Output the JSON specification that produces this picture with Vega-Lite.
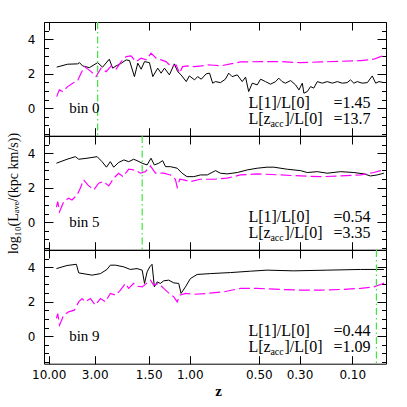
{
"$schema": "https://vega.github.io/schema/vega-lite/v6.json",
"autosize": {"type": "none"},
"padding": {"left": 44, "top": 22, "right": 363, "bottom": 385},
"background": "white",
"config": {"view": {"stroke": "black", "strokeWidth": 1}, "axis": {"domain": false, "grid": false, "tickColor": "black", "tickWidth": 1, "labelColor": "black", "titleColor": "black"}},
"datasets": {
"bin0": [{"t":0.79,"v":2.38},{"t":1.21,"v":2.55},{"t":1.60,"v":2.57},{"t":1.67,"v":2.64},{"t":1.79,"v":2.45},{"t":2.05,"v":2.35},{"t":2.37,"v":2.64},{"t":2.56,"v":2.38},{"t":2.82,"v":2.84},{"t":2.95,"v":2.32},{"t":3.08,"v":2.45},{"t":3.28,"v":2.6},{"t":3.47,"v":2.8},{"t":3.60,"v":2.76},{"t":3.79,"v":1.83},{"t":3.92,"v":2.61},{"t":4.05,"v":2.26},{"t":4.18,"v":2.7},{"t":4.37,"v":2.64},{"t":4.50,"v":1.83},{"t":4.69,"v":2.32},{"t":4.82,"v":2.03},{"t":4.95,"v":2.32},{"t":5.14,"v":1.93},{"t":5.33,"v":2.57},{"t":5.46,"v":2.12},{"t":5.59,"v":1.93},{"t":5.79,"v":1.54},{"t":5.91,"v":1.87},{"t":6.11,"v":1.64},{"t":6.23,"v":1.83},{"t":6.37,"v":1.68},{"t":6.56,"v":1.99},{"t":6.69,"v":2.03},{"t":6.81,"v":1.45},{"t":6.92,"v":1.54},{"t":7.11,"v":1.48},{"t":7.30,"v":1.68},{"t":7.43,"v":2.03},{"t":7.56,"v":1.83},{"t":7.76,"v":1.93},{"t":7.95,"v":1.54},{"t":8.08,"v":1.8},{"t":8.20,"v":0.96},{"t":8.34,"v":1.45},{"t":8.53,"v":1.35},{"t":8.66,"v":1.68},{"t":8.85,"v":1.54},{"t":9.04,"v":1.39},{"t":9.24,"v":1.54},{"t":9.36,"v":1.74},{"t":9.49,"v":1.54},{"t":9.62,"v":1.45},{"t":9.82,"v":1.6},{"t":10.01,"v":1.35},{"t":10.14,"v":1.06},{"t":10.27,"v":1.45},{"t":10.33,"v":0.87},{"t":10.46,"v":0.96},{"t":10.59,"v":1.25},{"t":10.71,"v":1.16},{"t":10.85,"v":1.54},{"t":11.04,"v":1.45},{"t":11.23,"v":1.54},{"t":11.43,"v":1.45},{"t":11.62,"v":1.54},{"t":11.81,"v":1.45},{"t":12.00,"v":1.48},{"t":12.13,"v":1.64},{"t":12.26,"v":1.45},{"t":12.39,"v":1.54},{"t":12.58,"v":1.45},{"t":12.78,"v":1.48},{"t":12.97,"v":1.87},{"t":13.10,"v":1.45},{"t":13.23,"v":1.54},{"t":13.42,"v":1.48}],
"ref0": [{"t":0.79,"v":0.67},{"t":0.89,"v":1.06},{"t":1.02,"v":0.96},{"t":1.21,"v":1.25},{"t":1.41,"v":1.45},{"t":1.60,"v":1.6},{"t":1.73,"v":2.03},{"t":1.86,"v":2.41},{"t":2.12,"v":2.12},{"t":2.31,"v":1.83},{"t":2.50,"v":2.32},{"t":2.70,"v":2.12},{"t":2.89,"v":2.45},{"t":3.08,"v":2.26},{"t":3.28,"v":2.7},{"t":3.47,"v":2.99},{"t":3.66,"v":3.03},{"t":3.85,"v":2.7},{"t":4.05,"v":2.9},{"t":4.24,"v":2.8},{"t":4.43,"v":3.19},{"t":4.63,"v":2.9},{"t":4.82,"v":2.8},{"t":5.01,"v":2.7},{"t":5.21,"v":2.41},{"t":5.40,"v":2.51},{"t":5.53,"v":2.03},{"t":5.65,"v":2.41},{"t":5.85,"v":2.45},{"t":6.11,"v":2.41},{"t":6.37,"v":2.45},{"t":6.62,"v":2.51},{"t":6.88,"v":2.49},{"t":7.11,"v":2.45},{"t":7.50,"v":2.57},{"t":7.88,"v":2.68},{"t":8.66,"v":2.7},{"t":9.43,"v":2.7},{"t":10.20,"v":2.64},{"t":10.97,"v":2.68},{"t":11.75,"v":2.72},{"t":12.52,"v":2.76},{"t":13.03,"v":2.84},{"t":13.29,"v":2.99},{"t":13.48,"v":3.09}],
"bin5": [{"t":0.78,"v":3.42},{"t":1.19,"v":3.65},{"t":1.51,"v":3.8},{"t":1.64,"v":3.65},{"t":1.96,"v":3.71},{"t":2.35,"v":3.8},{"t":2.54,"v":3.51},{"t":2.71,"v":3.19},{"t":2.86,"v":3.51},{"t":2.99,"v":3.19},{"t":3.18,"v":3.46},{"t":3.38,"v":3.61},{"t":3.57,"v":3.51},{"t":3.76,"v":3.65},{"t":3.89,"v":3.57},{"t":4.09,"v":3.42},{"t":4.28,"v":3.32},{"t":4.43,"v":3.71},{"t":4.56,"v":3.32},{"t":4.73,"v":3.42},{"t":4.88,"v":3.57},{"t":4.99,"v":3.22},{"t":5.18,"v":3.22},{"t":5.44,"v":3.13},{"t":5.63,"v":2.84},{"t":5.82,"v":2.64},{"t":6.08,"v":2.64},{"t":6.34,"v":2.74},{"t":6.60,"v":2.74},{"t":6.92,"v":2.99},{"t":7.11,"v":2.84},{"t":7.37,"v":2.8},{"t":7.76,"v":2.88},{"t":8.14,"v":3.03},{"t":8.53,"v":3.13},{"t":8.91,"v":3.19},{"t":9.17,"v":3.19},{"t":9.69,"v":3.07},{"t":10.20,"v":2.99},{"t":10.46,"v":2.88},{"t":10.85,"v":2.93},{"t":11.23,"v":2.84},{"t":11.75,"v":2.93},{"t":12.26,"v":2.88},{"t":12.65,"v":2.8},{"t":12.90,"v":2.68},{"t":13.16,"v":2.74},{"t":13.42,"v":2.84}],
"ref5": [{"t":0.78,"v":0.87},{"t":0.83,"v":1.19},{"t":0.90,"v":0.61},{"t":1.06,"v":1.19},{"t":1.25,"v":1.39},{"t":1.38,"v":1.29},{"t":1.58,"v":1.58},{"t":1.70,"v":1.97},{"t":1.83,"v":2.45},{"t":1.99,"v":2.16},{"t":2.22,"v":1.87},{"t":2.41,"v":2.26},{"t":2.60,"v":2.35},{"t":2.80,"v":2.1},{"t":2.99,"v":2.55},{"t":3.18,"v":2.84},{"t":3.35,"v":2.64},{"t":3.57,"v":3.07},{"t":3.76,"v":3.03},{"t":3.83,"v":3.03},{"t":4.02,"v":2.84},{"t":4.21,"v":2.93},{"t":4.41,"v":3.26},{"t":4.60,"v":2.84},{"t":4.92,"v":2.84},{"t":5.18,"v":2.74},{"t":5.37,"v":2.49},{"t":5.44,"v":2.03},{"t":5.54,"v":2.49},{"t":5.69,"v":2.45},{"t":5.95,"v":2.35},{"t":6.34,"v":2.49},{"t":6.85,"v":2.49},{"t":7.37,"v":2.55},{"t":7.88,"v":2.74},{"t":8.53,"v":2.8},{"t":9.43,"v":2.74},{"t":10.20,"v":2.68},{"t":10.97,"v":2.64},{"t":11.75,"v":2.68},{"t":12.52,"v":2.74},{"t":13.03,"v":2.88},{"t":13.29,"v":2.99},{"t":13.42,"v":3.07}],
"bin9": [{"t":0.78,"v":3.92},{"t":1.19,"v":4.1},{"t":1.55,"v":4.17},{"t":1.64,"v":3.67},{"t":2.16,"v":3.54},{"t":2.48,"v":3.63},{"t":2.73,"v":3.87},{"t":2.86,"v":4.12},{"t":3.06,"v":4.12},{"t":3.38,"v":4.02},{"t":3.63,"v":3.87},{"t":3.89,"v":3.92},{"t":4.09,"v":3.83},{"t":4.18,"v":3.06},{"t":4.28,"v":3.73},{"t":4.38,"v":4.02},{"t":4.47,"v":4.17},{"t":4.56,"v":2.86},{"t":4.67,"v":3.15},{"t":4.79,"v":3.06},{"t":4.92,"v":3.21},{"t":5.11,"v":3.25},{"t":5.31,"v":3.09},{"t":5.50,"v":3.06},{"t":5.59,"v":2.48},{"t":5.76,"v":2.86},{"t":5.95,"v":3.34},{"t":6.21,"v":3.58},{"t":6.72,"v":3.63},{"t":7.50,"v":3.69},{"t":8.27,"v":3.77},{"t":8.91,"v":3.83},{"t":9.94,"v":3.79},{"t":11.23,"v":3.83},{"t":12.52,"v":3.87},{"t":13.42,"v":3.87}],
"ref9": [{"t":0.78,"v":1.03},{"t":0.83,"v":1.31},{"t":0.90,"v":0.64},{"t":1.06,"v":1.22},{"t":1.25,"v":1.41},{"t":1.47,"v":1.51},{"t":1.64,"v":1.99},{"t":1.77,"v":2.18},{"t":1.90,"v":1.99},{"t":2.09,"v":2.18},{"t":2.28,"v":1.8},{"t":2.48,"v":2.18},{"t":2.67,"v":1.99},{"t":2.86,"v":2.48},{"t":3.06,"v":2.38},{"t":3.25,"v":2.67},{"t":3.44,"v":3.06},{"t":3.57,"v":2.77},{"t":3.76,"v":3.06},{"t":3.89,"v":2.9},{"t":4.09,"v":2.86},{"t":4.28,"v":3.09},{"t":4.41,"v":3.25},{"t":4.53,"v":2.96},{"t":4.73,"v":3.06},{"t":4.92,"v":2.77},{"t":5.11,"v":2.51},{"t":5.31,"v":2.28},{"t":5.44,"v":1.99},{"t":5.54,"v":2.38},{"t":5.76,"v":2.48},{"t":6.08,"v":2.43},{"t":6.60,"v":2.48},{"t":7.24,"v":2.57},{"t":7.88,"v":2.77},{"t":8.53,"v":2.77},{"t":9.43,"v":2.71},{"t":10.20,"v":2.67},{"t":10.97,"v":2.67},{"t":11.75,"v":2.71},{"t":12.52,"v":2.77},{"t":13.03,"v":2.86},{"t":13.29,"v":3.0},{"t":13.45,"v":3.09}],
"annot": [{"panel":0,"bin":"bin  0","r1":"=1.45","r2":"=13.7","zacc":2.37},{"panel":1,"bin":"bin  5","r1":"=0.54","r2":"=3.35","zacc":4.09},{"panel":2,"bin":"bin  9","r1":"=0.44","r2":"=1.09","zacc":13.13}]
},
"spacing": 0,
"bounds": "flush",
"vconcat": [
{
"width": 342, "height": 113.7,
"resolve": {"axis": {"x": "independent", "y": "independent"}},
"layer": [
{"data": {"name": "bin0"}, "mark": {"type": "line", "color": "black", "strokeWidth": 1, "clip": true},
 "encoding": {
  "x": {"field": "t", "type": "quantitative", "scale": {"domain": [0.3, 13.5], "nice": false, "zero": false}, "axis": {"orient": "bottom", "values": [0.48, 2.256, 4.341, 5.925, 8.59, 10.162, 12.198], "labels": false, "tickSize": -8, "title": null}},
  "y": {"field": "v", "type": "quantitative", "scale": {"domain": [-1.6, 5], "nice": false, "zero": false}, "axis": {"orient": "left", "values": [-1.5,-1,-0.5,0,0.5,1,1.5,2,2.5,3,3.5,4,4.5,5], "tickSize": {"condition": {"test": "datum.value % 2 === 0", "value": -9}, "value": -4.5}, "labelExpr": "datum.value === 4 ? '4' : datum.value === 2 ? '2' : datum.value === 0 ? '0' : ''", "labelOverlap": false, "labelFont": "DejaVu Sans", "labelFontSize": 12, "labelPadding": 18, "title": null}}
 }},
{"data": {"name": "ref0"}, "mark": {"type": "line", "color": "#ff00ff", "strokeWidth": 1.2, "strokeDash": [11, 4], "clip": true},
 "encoding": {
  "x": {"field": "t", "type": "quantitative", "scale": {"domain": [0.3, 13.5], "nice": false, "zero": false}, "axis": {"orient": "top", "values": [0.48, 2.256, 4.341, 5.925, 8.59, 10.162, 12.198], "labels": false, "tickSize": -8, "title": null}},
  "y": {"field": "v", "type": "quantitative", "scale": {"domain": [-1.6, 5], "nice": false, "zero": false}, "axis": {"orient": "right", "values": [-1.5,-1,-0.5,0,0.5,1,1.5,2,2.5,3,3.5,4,4.5,5], "tickSize": {"condition": {"test": "datum.value % 2 === 0", "value": -9}, "value": -4.5}, "labels": false, "title": null}}
 }},
{"data": {"name": "annot"}, "transform": [{"filter": "datum.panel === 0"}], "mark": {"type": "rule", "color": "#3ee83e", "strokeWidth": 1.2, "strokeDash": [7, 3, 1.5, 3]},
 "encoding": {"x": {"field": "zacc", "type": "quantitative", "scale": {"domain": [0.3, 13.5], "nice": false, "zero": false}, "axis": null}}},
{"data": {"name": "annot"}, "transform": [{"filter": "datum.panel === 0"}], "mark": {"type": "text", "align": "left", "baseline": "middle", "font": "Liberation Serif", "fontSize": 15, "color": "black"},
 "encoding": {"x": {"datum": 1.27, "type": "quantitative", "axis": null}, "y": {"datum": 0, "type": "quantitative", "axis": null}, "text": {"field": "bin"}}},
{"data": {"name": "annot"}, "transform": [{"filter": "datum.panel === 0"}], "mark": {"type": "text", "align": "left", "baseline": "middle", "font": "Liberation Serif", "fontSize": 16, "color": "black", "text": "L[1]/L[0]"},
 "encoding": {"x": {"datum": 8.19, "type": "quantitative", "axis": null}, "y": {"datum": 0.28, "type": "quantitative", "axis": null}}},
{"data": {"name": "annot"}, "transform": [{"filter": "datum.panel === 0"}], "mark": {"type": "text", "align": "left", "baseline": "middle", "font": "Liberation Serif", "fontSize": 16, "color": "black"},
 "encoding": {"x": {"datum": 11.475, "type": "quantitative", "axis": null}, "y": {"datum": 0.28, "type": "quantitative", "axis": null}, "text": {"field": "r1"}}},
{"data": {"name": "annot"}, "transform": [{"filter": "datum.panel === 0"}], "mark": {"type": "text", "align": "left", "baseline": "middle", "font": "Liberation Serif", "fontSize": 16, "color": "black", "text": "L[z"},
 "encoding": {"x": {"datum": 8.19, "type": "quantitative", "axis": null}, "y": {"datum": -0.62, "type": "quantitative", "axis": null}}},
{"data": {"name": "annot"}, "transform": [{"filter": "datum.panel === 0"}], "mark": {"type": "text", "align": "left", "baseline": "middle", "font": "Liberation Serif", "fontSize": 10, "color": "black", "text": "acc", "dx": 22, "dy": 5},
 "encoding": {"x": {"datum": 8.19, "type": "quantitative", "axis": null}, "y": {"datum": -0.62, "type": "quantitative", "axis": null}}},
{"data": {"name": "annot"}, "transform": [{"filter": "datum.panel === 0"}], "mark": {"type": "text", "align": "left", "baseline": "middle", "font": "Liberation Serif", "fontSize": 16, "color": "black", "text": "]/L[0]", "dx": 36},
 "encoding": {"x": {"datum": 8.19, "type": "quantitative", "axis": null}, "y": {"datum": -0.62, "type": "quantitative", "axis": null}}},
{"data": {"name": "annot"}, "transform": [{"filter": "datum.panel === 0"}], "mark": {"type": "text", "align": "left", "baseline": "middle", "font": "Liberation Serif", "fontSize": 16, "color": "black"},
 "encoding": {"x": {"datum": 11.475, "type": "quantitative", "axis": null}, "y": {"datum": -0.62, "type": "quantitative", "axis": null}, "text": {"field": "r2"}}}
]
},
{
"width": 342, "height": 113.7,
"resolve": {"axis": {"x": "independent", "y": "independent"}},
"layer": [
{"data": {"name": "bin5"}, "mark": {"type": "line", "color": "black", "strokeWidth": 1, "clip": true},
 "encoding": {
  "x": {"field": "t", "type": "quantitative", "scale": {"domain": [0.3, 13.5], "nice": false, "zero": false}, "axis": {"orient": "bottom", "values": [0.48, 2.256, 4.341, 5.925, 8.59, 10.162, 12.198], "labels": false, "tickSize": -8, "title": null}},
  "y": {"field": "v", "type": "quantitative", "scale": {"domain": [-1.6, 5], "nice": false, "zero": false}, "axis": {"orient": "left", "values": [-1.5,-1,-0.5,0,0.5,1,1.5,2,2.5,3,3.5,4,4.5,5], "tickSize": {"condition": {"test": "datum.value % 2 === 0", "value": -9}, "value": -4.5}, "labelExpr": "datum.value === 4 ? '4' : datum.value === 2 ? '2' : datum.value === 0 ? '0' : ''", "labelOverlap": false, "labelFont": "DejaVu Sans", "labelFontSize": 12, "labelPadding": 18, "title": "log₁₀(Lₐᵥₑ/(kpc km/s))", "titleFont": "Liberation Serif", "titleFontSize": 14, "titleFontWeight": "normal", "titleX": -31, "titleY": 57, "titleAlign": "center", "titleBaseline": "middle", "titleAngle": -90}}
 }},
{"data": {"name": "ref5"}, "mark": {"type": "line", "color": "#ff00ff", "strokeWidth": 1.2, "strokeDash": [11, 4], "clip": true},
 "encoding": {
  "x": {"field": "t", "type": "quantitative", "scale": {"domain": [0.3, 13.5], "nice": false, "zero": false}, "axis": {"orient": "top", "values": [0.48, 2.256, 4.341, 5.925, 8.59, 10.162, 12.198], "labels": false, "tickSize": -8, "title": null}},
  "y": {"field": "v", "type": "quantitative", "scale": {"domain": [-1.6, 5], "nice": false, "zero": false}, "axis": {"orient": "right", "values": [-1.5,-1,-0.5,0,0.5,1,1.5,2,2.5,3,3.5,4,4.5,5], "tickSize": {"condition": {"test": "datum.value % 2 === 0", "value": -9}, "value": -4.5}, "labels": false, "title": null}}
 }},
{"data": {"name": "annot"}, "transform": [{"filter": "datum.panel === 1"}], "mark": {"type": "rule", "color": "#3ee83e", "strokeWidth": 1.2, "strokeDash": [7, 3, 1.5, 3]},
 "encoding": {"x": {"field": "zacc", "type": "quantitative", "scale": {"domain": [0.3, 13.5], "nice": false, "zero": false}, "axis": null}}},
{"data": {"name": "annot"}, "transform": [{"filter": "datum.panel === 1"}], "mark": {"type": "text", "align": "left", "baseline": "middle", "font": "Liberation Serif", "fontSize": 15, "color": "black"},
 "encoding": {"x": {"datum": 1.27, "type": "quantitative", "axis": null}, "y": {"datum": 0, "type": "quantitative", "axis": null}, "text": {"field": "bin"}}},
{"data": {"name": "annot"}, "transform": [{"filter": "datum.panel === 1"}], "mark": {"type": "text", "align": "left", "baseline": "middle", "font": "Liberation Serif", "fontSize": 16, "color": "black", "text": "L[1]/L[0]"},
 "encoding": {"x": {"datum": 8.19, "type": "quantitative", "axis": null}, "y": {"datum": 0.28, "type": "quantitative", "axis": null}}},
{"data": {"name": "annot"}, "transform": [{"filter": "datum.panel === 1"}], "mark": {"type": "text", "align": "left", "baseline": "middle", "font": "Liberation Serif", "fontSize": 16, "color": "black"},
 "encoding": {"x": {"datum": 11.475, "type": "quantitative", "axis": null}, "y": {"datum": 0.28, "type": "quantitative", "axis": null}, "text": {"field": "r1"}}},
{"data": {"name": "annot"}, "transform": [{"filter": "datum.panel === 1"}], "mark": {"type": "text", "align": "left", "baseline": "middle", "font": "Liberation Serif", "fontSize": 16, "color": "black", "text": "L[z"},
 "encoding": {"x": {"datum": 8.19, "type": "quantitative", "axis": null}, "y": {"datum": -0.62, "type": "quantitative", "axis": null}}},
{"data": {"name": "annot"}, "transform": [{"filter": "datum.panel === 1"}], "mark": {"type": "text", "align": "left", "baseline": "middle", "font": "Liberation Serif", "fontSize": 10, "color": "black", "text": "acc", "dx": 22, "dy": 5},
 "encoding": {"x": {"datum": 8.19, "type": "quantitative", "axis": null}, "y": {"datum": -0.62, "type": "quantitative", "axis": null}}},
{"data": {"name": "annot"}, "transform": [{"filter": "datum.panel === 1"}], "mark": {"type": "text", "align": "left", "baseline": "middle", "font": "Liberation Serif", "fontSize": 16, "color": "black", "text": "]/L[0]", "dx": 36},
 "encoding": {"x": {"datum": 8.19, "type": "quantitative", "axis": null}, "y": {"datum": -0.62, "type": "quantitative", "axis": null}}},
{"data": {"name": "annot"}, "transform": [{"filter": "datum.panel === 1"}], "mark": {"type": "text", "align": "left", "baseline": "middle", "font": "Liberation Serif", "fontSize": 16, "color": "black"},
 "encoding": {"x": {"datum": 11.475, "type": "quantitative", "axis": null}, "y": {"datum": -0.62, "type": "quantitative", "axis": null}, "text": {"field": "r2"}}}
]
},
{
"width": 342, "height": 113.7,
"resolve": {"axis": {"x": "independent", "y": "independent"}},
"layer": [
{"data": {"name": "bin9"}, "mark": {"type": "line", "color": "black", "strokeWidth": 1, "clip": true},
 "encoding": {
  "x": {"field": "t", "type": "quantitative", "scale": {"domain": [0.3, 13.5], "nice": false, "zero": false}, "axis": {"orient": "bottom", "values": [0.48, 2.256, 4.341, 5.925, 8.59, 10.162, 12.198], "labelExpr": "['10.00','3.00','1.50','1.00','0.50','0.30','0.10'][round(datum.index*6)]", "labelFlush": false, "labelOverlap": false, "labelBound": false, "labelFont": "DejaVu Sans", "labelFontSize": 12, "labelPadding": 14, "tickSize": -8, "title": "z", "titleFont": "Liberation Serif", "titleFontSize": 15, "titleFontWeight": "bold", "titleX": 174, "titleY": 27, "titleBaseline": "middle", "titleAlign": "center"}},
  "y": {"field": "v", "type": "quantitative", "scale": {"domain": [-1.6, 5], "nice": false, "zero": false}, "axis": {"orient": "left", "values": [-1.5,-1,-0.5,0,0.5,1,1.5,2,2.5,3,3.5,4,4.5,5], "tickSize": {"condition": {"test": "datum.value % 2 === 0", "value": -9}, "value": -4.5}, "labelExpr": "datum.value === 4 ? '4' : datum.value === 2 ? '2' : datum.value === 0 ? '0' : ''", "labelOverlap": false, "labelFont": "DejaVu Sans", "labelFontSize": 12, "labelPadding": 18, "title": null}}
 }},
{"data": {"name": "ref9"}, "mark": {"type": "line", "color": "#ff00ff", "strokeWidth": 1.2, "strokeDash": [11, 4], "clip": true},
 "encoding": {
  "x": {"field": "t", "type": "quantitative", "scale": {"domain": [0.3, 13.5], "nice": false, "zero": false}, "axis": {"orient": "top", "values": [0.48, 2.256, 4.341, 5.925, 8.59, 10.162, 12.198], "labels": false, "tickSize": -8, "title": null}},
  "y": {"field": "v", "type": "quantitative", "scale": {"domain": [-1.6, 5], "nice": false, "zero": false}, "axis": {"orient": "right", "values": [-1.5,-1,-0.5,0,0.5,1,1.5,2,2.5,3,3.5,4,4.5,5], "tickSize": {"condition": {"test": "datum.value % 2 === 0", "value": -9}, "value": -4.5}, "labels": false, "title": null}}
 }},
{"data": {"name": "annot"}, "transform": [{"filter": "datum.panel === 2"}], "mark": {"type": "rule", "color": "#3ee83e", "strokeWidth": 1.2, "strokeDash": [7, 3, 1.5, 3]},
 "encoding": {"x": {"field": "zacc", "type": "quantitative", "scale": {"domain": [0.3, 13.5], "nice": false, "zero": false}, "axis": null}}},
{"data": {"name": "annot"}, "transform": [{"filter": "datum.panel === 2"}], "mark": {"type": "text", "align": "left", "baseline": "middle", "font": "Liberation Serif", "fontSize": 15, "color": "black"},
 "encoding": {"x": {"datum": 1.27, "type": "quantitative", "axis": null}, "y": {"datum": 0, "type": "quantitative", "axis": null}, "text": {"field": "bin"}}},
{"data": {"name": "annot"}, "transform": [{"filter": "datum.panel === 2"}], "mark": {"type": "text", "align": "left", "baseline": "middle", "font": "Liberation Serif", "fontSize": 16, "color": "black", "text": "L[1]/L[0]"},
 "encoding": {"x": {"datum": 8.19, "type": "quantitative", "axis": null}, "y": {"datum": 0.28, "type": "quantitative", "axis": null}}},
{"data": {"name": "annot"}, "transform": [{"filter": "datum.panel === 2"}], "mark": {"type": "text", "align": "left", "baseline": "middle", "font": "Liberation Serif", "fontSize": 16, "color": "black"},
 "encoding": {"x": {"datum": 11.475, "type": "quantitative", "axis": null}, "y": {"datum": 0.28, "type": "quantitative", "axis": null}, "text": {"field": "r1"}}},
{"data": {"name": "annot"}, "transform": [{"filter": "datum.panel === 2"}], "mark": {"type": "text", "align": "left", "baseline": "middle", "font": "Liberation Serif", "fontSize": 16, "color": "black", "text": "L[z"},
 "encoding": {"x": {"datum": 8.19, "type": "quantitative", "axis": null}, "y": {"datum": -0.62, "type": "quantitative", "axis": null}}},
{"data": {"name": "annot"}, "transform": [{"filter": "datum.panel === 2"}], "mark": {"type": "text", "align": "left", "baseline": "middle", "font": "Liberation Serif", "fontSize": 10, "color": "black", "text": "acc", "dx": 22, "dy": 5},
 "encoding": {"x": {"datum": 8.19, "type": "quantitative", "axis": null}, "y": {"datum": -0.62, "type": "quantitative", "axis": null}}},
{"data": {"name": "annot"}, "transform": [{"filter": "datum.panel === 2"}], "mark": {"type": "text", "align": "left", "baseline": "middle", "font": "Liberation Serif", "fontSize": 16, "color": "black", "text": "]/L[0]", "dx": 36},
 "encoding": {"x": {"datum": 8.19, "type": "quantitative", "axis": null}, "y": {"datum": -0.62, "type": "quantitative", "axis": null}}},
{"data": {"name": "annot"}, "transform": [{"filter": "datum.panel === 2"}], "mark": {"type": "text", "align": "left", "baseline": "middle", "font": "Liberation Serif", "fontSize": 16, "color": "black"},
 "encoding": {"x": {"datum": 11.475, "type": "quantitative", "axis": null}, "y": {"datum": -0.62, "type": "quantitative", "axis": null}, "text": {"field": "r2"}}}
]
}
]
}
